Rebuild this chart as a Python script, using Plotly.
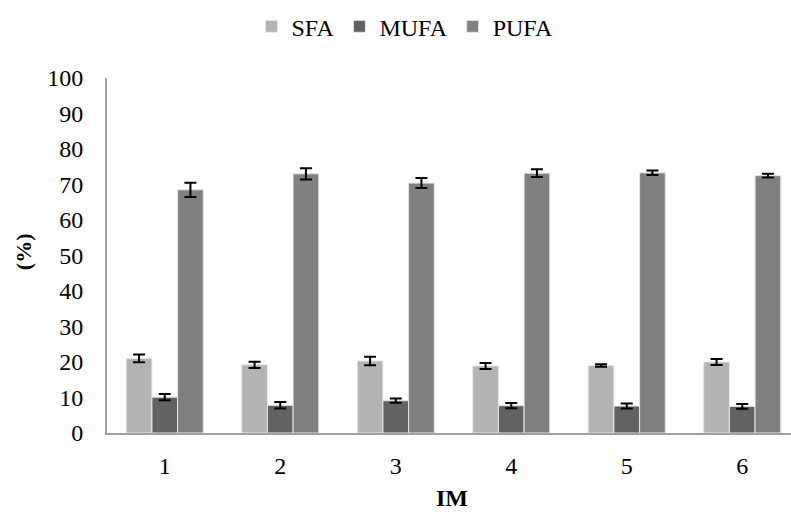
import plotly.graph_objects as go

categories = [1, 2, 3, 4, 5, 6]
tick_labels = ["1", "2", "3", "4", "5", "6"]

sfa = [21.0, 19.2, 20.3, 18.9, 19.0, 20.0]
sfa_err = [1.1, 0.9, 1.2, 0.85, 0.35, 0.85]
mufa = [10.1, 7.8, 9.1, 7.7, 7.6, 7.5]
mufa_err = [0.9, 0.9, 0.6, 0.75, 0.7, 0.65]
pufa = [68.5, 73.0, 70.4, 73.2, 73.3, 72.5]
pufa_err = [2.0, 1.6, 1.4, 1.1, 0.65, 0.55]

series = [
    ("SFA", sfa, sfa_err, "#b3b3b3"),
    ("MUFA", mufa, mufa_err, "#626262"),
    ("PUFA", pufa, pufa_err, "#808080"),
]

FONT = "Liberation Serif"

fig = go.Figure()
for name, vals, errs, col in series:
    fig.add_trace(go.Bar(
        x=categories, y=vals, name=name,
        marker=dict(color=col, line=dict(color="#e6e6e6", width=1)),
        error_y=dict(type="data", array=errs, visible=True,
                     color="black", thickness=2, width=6),
    ))

fig.update_layout(
    width=791, height=514,
    margin=dict(l=107, r=0, t=78, b=81),
    paper_bgcolor="white", plot_bgcolor="white",
    barmode="group", bargap=0.333, bargroupgap=0,
    font=dict(family=FONT, size=24, color="black"),
    legend=dict(orientation="h", x=0.512, xanchor="center", xref="container",
                y=0.948, yref="container", yanchor="middle",
                font=dict(size=24), itemwidth=30, traceorder="normal"),
    xaxis=dict(
        range=[0.5, 0.5 + (791 - 107) / 115.5],
        tickmode="array", tickvals=categories, ticktext=tick_labels,
        showgrid=False, zeroline=False, automargin=False,
        showline=True, linecolor="#a0a0a0", linewidth=2,
        ticks="outside", ticklen=10, tickcolor="rgba(0,0,0,0)",
        tickfont=dict(size=24),
    ),
    yaxis=dict(
        range=[0, 100], dtick=10, tick0=0,
        showgrid=False, zeroline=False, automargin=False,
        showline=True, linecolor="#a0a0a0", linewidth=2,
        ticks="outside", ticklen=17, tickcolor="rgba(0,0,0,0)",
        tickfont=dict(size=24),
    ),
    annotations=[
        dict(text="<b>IM</b>", xref="paper", yref="paper", x=0.505, y=-0.184,
             xanchor="center", yanchor="middle", showarrow=False,
             font=dict(size=24)),
        dict(text="<b>(%)</b>", xref="paper", yref="paper", x=-0.121, y=0.51,
             xanchor="center", yanchor="middle", showarrow=False, textangle=-90,
             font=dict(size=22)),
    ],
)

fig.write_html("out.html")
